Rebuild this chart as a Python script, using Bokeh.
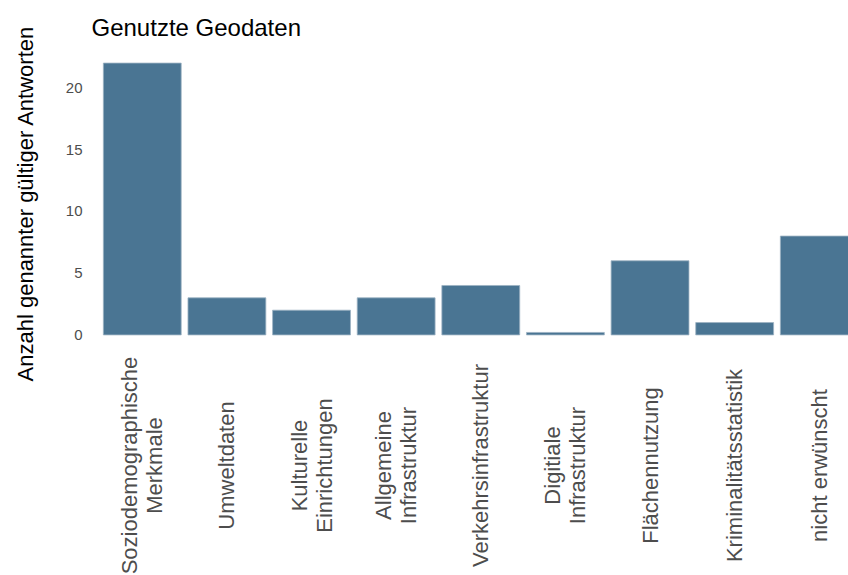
from bokeh.plotting import figure
from bokeh.models import ColumnDataSource, Range1d, FixedTicker
from bokeh.layouts import column, row
from bokeh.core.properties import value
from bokeh.embed import file_html
from bokeh.resources import INLINE

categories = ["Soziodemographische\nMerkmale", "Umweltdaten", "Kulturelle\nEinrichtungen",
              "Allgemeine\nInfrastruktur", "Verkehrsinfrastruktur", "Digitiale\nInfrastruktur",
              "Flächennutzung", "Kriminalitätsstatistik", "nicht erwünscht"]
counts = [22, 3, 2, 3, 4, 0.2, 6, 1, 8]
y_ticks = [0, 5, 10, 15, 20]
title_text = "Genutzte Geodaten"
y_title = "Anzahl genannter gültiger Antworten"

FONT = "Liberation Sans"
BAR = "#4A7593"
LEFT_W = 60

positions = list(range(1, len(categories) + 1))
src = ColumnDataSource(dict(x=positions, top=counts, cat=categories))

xr = Range1d(0.4, 9.345)

# left strip carrying the y-axis title
side = figure(width=LEFT_W, height=575, output_backend="svg", toolbar_location=None,
              x_range=Range1d(0, LEFT_W), y_range=Range1d(0, 575),
              min_border_left=0, min_border_right=0, min_border_top=0, min_border_bottom=0,
              x_axis_type=None, y_axis_type=None)
side.grid.visible = False
side.outline_line_color = None
side.text(x=[25], y=[372], text=[y_title], angle=1.5707963,
          text_align="center", text_baseline="middle",
          text_font=value(FONT), text_font_size="22px", text_color="black")

# main bar chart
p = figure(width=848 - LEFT_W, height=350, output_backend="svg", toolbar_location=None,
           x_range=xr, y_range=Range1d(-1.1, 23.1),
           min_border_left=91 - LEFT_W, min_border_right=0, min_border_top=49, min_border_bottom=2,
           title=title_text)

p.vbar(x="x", top="top", bottom=0, width=0.92, source=src,
       fill_color=BAR, line_color="#9DB2C3", line_width=0.8)

p.xaxis.visible = False
p.grid.visible = False
p.outline_line_color = None

ya = p.yaxis[0]
ya.ticker = FixedTicker(ticks=y_ticks)
ya.axis_line_color = None
ya.major_tick_line_color = None
ya.minor_tick_line_color = None
ya.major_tick_out = 0
ya.major_tick_in = 0
ya.major_label_standoff = 9
ya.major_label_text_font = FONT
ya.major_label_text_font_size = "15px"
ya.major_label_text_color = "#4d4d4d"

p.title.text_font = FONT
p.title.text_font_size = "24px"
p.title.text_font_style = "normal"
p.title.text_color = "black"
p.title.standoff = 18

# category labels in a strip below the bars, sharing the x range
q = figure(width=848 - LEFT_W, height=225, output_backend="svg", toolbar_location=None,
           x_range=xr, y_range=Range1d(0, 225),
           min_border_left=91 - LEFT_W, min_border_right=0, min_border_top=0, min_border_bottom=0,
           x_axis_type=None, y_axis_type=None)
q.grid.visible = False
q.outline_line_color = None
lab_src = ColumnDataSource(dict(x=positions, y=[110] * len(categories), cat=categories))
q.text(x="x", y="y", text="cat", source=lab_src, angle=1.5707963,
       text_align="center", text_baseline="middle",
       text_font=value(FONT), text_font_size="22px", text_color="#4d4d4d",
       text_line_height=1.0)

layout = row(side, column(p, q, spacing=0), spacing=0)
open("out.html", "w").write(file_html(layout, INLINE))
